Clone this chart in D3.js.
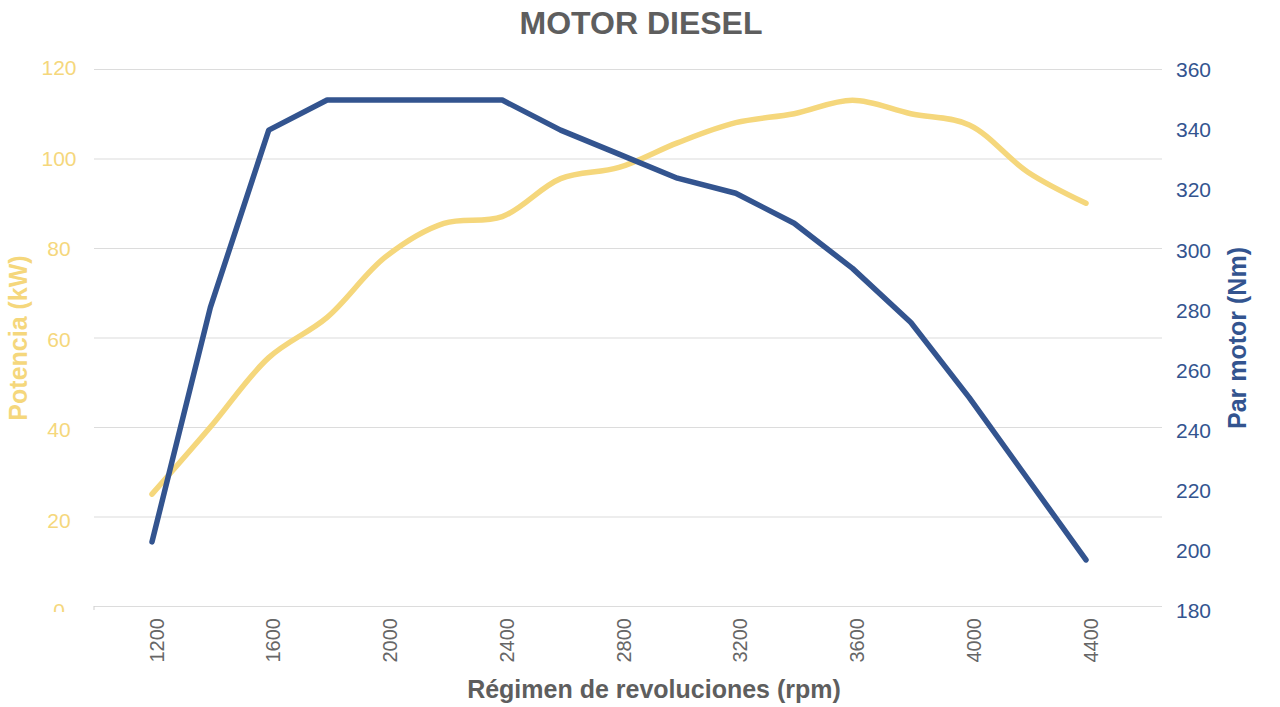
<!DOCTYPE html>
<html>
<head>
<meta charset="utf-8">
<script src="https://cdn.jsdelivr.net/npm/d3@7"></script>
<style>
  body { margin: 0; background: #fff; }
  svg { font-family: "Helvetica Neue", Arial, "Liberation Sans", sans-serif; }
</style>
</head>
<body>
<script>
// ------------  DATA  ------------
const rpm = [1200, 1400, 1600, 1800, 2000, 2200, 2400, 2600, 2800, 3000, 3200, 3400, 3600, 3800, 4000, 4200, 4400];
const potencia = [25, 40, 55.5, 64.5, 78, 85.5, 87, 95.5, 98, 103.5, 108, 110, 113, 110, 107.5, 97, 90];   // kW
const par = [203, 281, 340, 350, 350, 350, 350, 340, 332, 324, 319, 309, 294, 276, 251, 224, 197];          // Nm
const ticksX = [1200, 1600, 2000, 2400, 2800, 3200, 3600, 4000, 4400];
const ticksL = [0, 20, 40, 60, 80, 100, 120];
const ticksR = [180, 200, 220, 240, 260, 280, 300, 320, 340, 360];

// ------------  PARAMETERS  ------------
const W = 1280, H = 707;
const plot = { left: 94, right: 1162, top: 69, bottom: 606 };
const yellow = "#f5d77c", blue = "#33548f", grey = "#5e5e5e";

const svg = d3.select("body").append("svg").attr("width", W).attr("height", H);

// ------------  SCALES  ------------
const x = d3.scaleLinear().domain([1200, 4400]).range([152, 1086]);
const yL = d3.scaleLinear().domain([0, 120]).range([plot.bottom, plot.top]);
const yR = d3.scaleLinear().domain([180, 360]).range([611, 70]);
const yLlab = yL.copy().range([611, 68]); // labels sit a few px lower than the grid

// ------------  GRID  ------------
svg.append("g")
  .attr("transform", "translate(" + plot.left + ",0)")
  .call(d3.axisRight(yL).tickValues(ticksL).tickSize(plot.right - plot.left).tickFormat(""))
  .call(g => g.select(".domain").remove())
  .call(g => g.selectAll("line").attr("stroke", "#dcdcdc").attr("stroke-width", 1.2));

// small tick at the bottom left corner
svg.append("line")
  .attr("x1", plot.left).attr("x2", plot.left)
  .attr("y1", plot.bottom).attr("y2", plot.bottom + 4)
  .attr("stroke", "#cfcfcf");

// ------------  AXES  ------------
// the "0" label is cut off in the original
svg.append("defs").append("clipPath").attr("id", "clipL")
  .append("rect").attr("x", -60).attr("y", 0).attr("width", 100).attr("height", 612);

svg.append("g")
  .attr("clip-path", "url(#clipL)")
  .attr("transform", "translate(59,0)")
  .call(d3.axisLeft(yLlab).tickValues(ticksL).tickSize(0).tickPadding(0))
  .call(g => g.select(".domain").remove())
  .call(g => g.selectAll("text").attr("fill", yellow).attr("text-anchor", "middle")
    .style("font-size", "21px").attr("font-family", null));

svg.append("g")
  .attr("transform", "translate(1176,0)")
  .call(d3.axisRight(yR).tickValues(ticksR).tickSize(0).tickPadding(0))
  .call(g => g.select(".domain").remove())
  .call(g => g.selectAll("text").attr("fill", blue).style("font-size", "21px").attr("font-family", null));

const xg = svg.append("g")
  .attr("transform", "translate(0," + plot.bottom + ")")
  .call(d3.axisBottom(x).tickValues(ticksX).tickSize(0).tickFormat(d3.format("d")))
  .call(g => g.select(".domain").remove());
xg.selectAll("text")
  .attr("fill", "#666")
  .attr("font-family", null)
  .style("font-size", "20px")
  .attr("text-anchor", "end")
  .attr("transform", "rotate(-90)")
  .attr("x", -12).attr("y", 4).attr("dy", "0.35em");

// ------------  LINES  ------------
svg.append("path")
  .datum(rpm.map((r, i) => [r, potencia[i]]))
  .attr("fill", "none")
  .attr("stroke", yellow)
  .attr("stroke-width", 5.5)
  .attr("stroke-linecap", "round")
  .attr("stroke-linejoin", "round")
  .attr("d", d3.line().x(d => x(d[0])).y(d => yL(d[1])).curve(d3.curveCatmullRom.alpha(0.5)));

svg.append("path")
  .datum(rpm.map((r, i) => [r, par[i]]))
  .attr("fill", "none")
  .attr("stroke", blue)
  .attr("stroke-width", 5.5)
  .attr("stroke-linecap", "round")
  .attr("stroke-linejoin", "round")
  .attr("d", d3.line().x(d => x(d[0])).y(d => yR(d[1])));

// ------------  TITLES  ------------
svg.append("text")
  .attr("x", 641).attr("y", 34)
  .attr("text-anchor", "middle")
  .attr("fill", grey)
  .style("font-size", "32px").style("font-weight", "bold")
  .text("MOTOR DIESEL");

svg.append("text")
  .attr("x", 654).attr("y", 698)
  .attr("text-anchor", "middle")
  .attr("fill", grey)
  .style("font-size", "25px").style("font-weight", "bold")
  .text("Régimen de revoluciones (rpm)");

svg.append("text")
  .attr("transform", "translate(27,338) rotate(-90)")
  .attr("text-anchor", "middle")
  .attr("fill", yellow)
  .style("font-size", "25px").style("font-weight", "bold")
  .text("Potencia (kW)");

svg.append("text")
  .attr("transform", "translate(1246,338) rotate(-90)")
  .attr("text-anchor", "middle")
  .attr("fill", blue)
  .style("font-size", "25px").style("font-weight", "bold")
  .text("Par motor (Nm)");
</script>
</body>
</html>
